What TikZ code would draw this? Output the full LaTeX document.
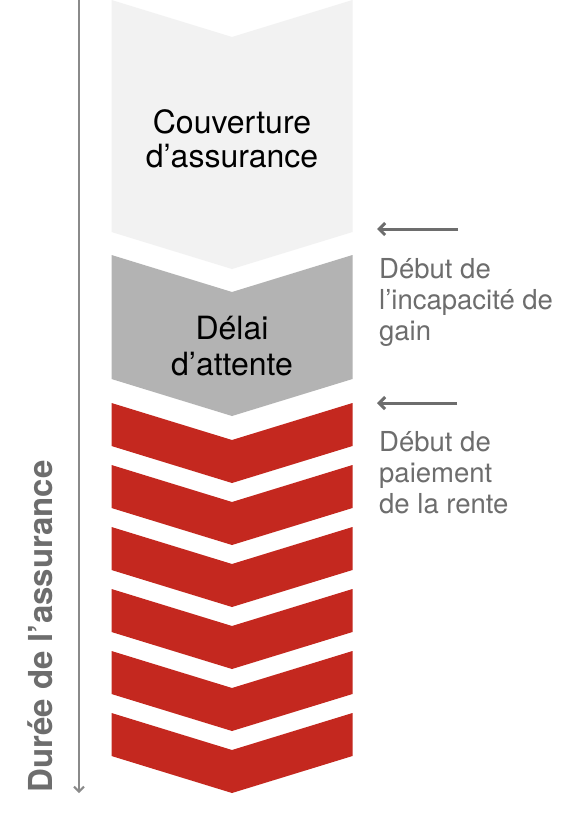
\documentclass[tikz,border=0pt]{standalone}
\usepackage{fontspec}
\setmainfont{TeX Gyre Heros}
\usetikzlibrary{arrows.meta}
\definecolor{lightc}{HTML}{F2F2F2}
\definecolor{midc}{HTML}{B3B3B3}
\definecolor{redc}{HTML}{C4281F}
\definecolor{labc}{HTML}{6D6D6D}
\definecolor{axisc}{HTML}{8A8A8A}
\tikzset{
  chevtext/.style={anchor=base, inner sep=0pt, text=black, font=\fontsize{32}{35}\selectfont},
  sidetext/.style={anchor=base west, inner sep=0pt, text=labc, font=\fontsize{27.5}{31}\selectfont},
  axistext/.style={anchor=base west, inner sep=0pt, rotate=90, text=labc, font=\fontsize{33}{36}\selectfont\bfseries},
  markarrow/.style={draw=labc, line width=3pt, -{Straight Barb[length=6pt,width=12pt]}},
  axisarrow/.style={draw=axisc, line width=2pt, -{Straight Barb[length=5pt,width=10pt]}}
}
\begin{document}
\begin{tikzpicture}[x=1pt,y=-1pt]
\useasboundingbox[fill=white] (0,0) rectangle (580,838);
% chevrons
\fill[lightc] (111.5,0) -- (232,37) -- (352.5,0) -- (352.5,232) -- (232,269) -- (111.5,232) -- cycle;
\fill[midc] (111.5,255) -- (232,292) -- (352.5,255) -- (352.5,379) -- (232,416) -- (111.5,379) -- cycle;
\foreach \i in {0,...,5}{
  \pgfmathsetmacro\tp{403+62*\i}
  \pgfmathsetmacro\bt{446+62*\i}
  \fill[redc] (111.5,\tp) -- (232,\tp+37) -- (352.5,\tp) -- (352.5,\bt) -- (232,\bt+37) -- (111.5,\bt) -- cycle;
}
% chevron texts
\node[chevtext] (cov1) at (232,133) {Couverture};
\node[chevtext] (cov2) at (232,167) {d’assurance};
\node[chevtext] (del1) at (232,339) {Délai};
\node[chevtext] (del2) at (232,375) {d’attente};
% axis
\coordinate (ax0) at (79,0);
\coordinate (ax1) at (79,793);
\draw[axisarrow] (ax0) -- (ax1);
\node[axistext] (axl) at (52,793) {Durée de l’assurance};
% markers
\coordinate (m1s) at (458,229);
\coordinate (m1e) at (377,229);
\draw[markarrow] (m1s) -- (m1e);
\node[sidetext] (l11) at (379,278) {Début de};
\node[sidetext] (l12) at (379,309) {l’incapacité de};
\node[sidetext] (l13) at (379,340) {gain};
\coordinate (m2s) at (457,403);
\coordinate (m2e) at (377,403);
\draw[markarrow] (m2s) -- (m2e);
\node[sidetext] (l21) at (379,451) {Début de};
\node[sidetext] (l22) at (379,482) {paiement};
\node[sidetext] (l23) at (379,513) {de la rente};
\end{tikzpicture}
\end{document}
